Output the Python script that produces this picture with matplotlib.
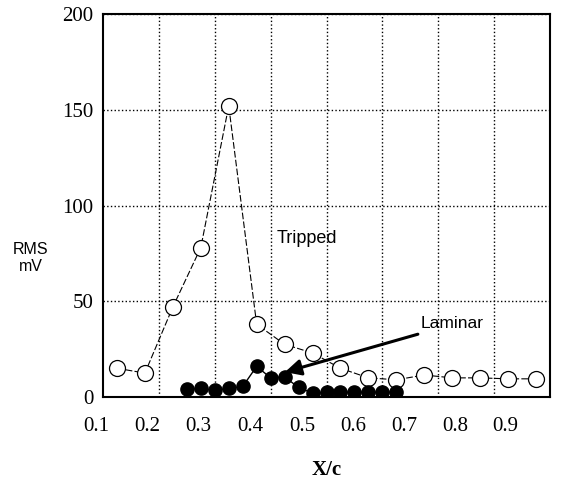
import matplotlib
import matplotlib.pyplot as plt
import matplotlib.transforms as mtransforms

matplotlib.use('Agg')

# tripped boundary layer (open circles)
tripped_x = [0.125, 0.175, 0.225, 0.275, 0.325, 0.375, 0.425, 0.475,
             0.525, 0.575, 0.625, 0.675, 0.725, 0.775, 0.825, 0.875]
tripped_rms = [15, 12.5, 47, 78, 152, 38, 27.5, 23,
               15, 10, 9, 11.5, 10, 10, 9.5, 9.5]

# laminar boundary layer (filled circles)
laminar_x = [0.25, 0.275, 0.3, 0.325, 0.35, 0.375, 0.4, 0.425,
             0.45, 0.475, 0.5, 0.525, 0.55, 0.575, 0.6, 0.625]
laminar_rms = [4, 4.5, 3.5, 4.5, 5.5, 16, 10, 10.5,
               5, 2, 2.5, 2.5, 2.5, 2.5, 2.5, 2.5]

x_grid = [0.2, 0.3, 0.4, 0.5, 0.6, 0.7, 0.8]
y_ticks = [0, 50, 100, 150, 200]
# the printed x labels sit a little off the grid lines in the original
x_labels = ["0.1", "0.2", "0.3", "0.4", "0.5", "0.6", "0.7", "0.8", "0.9"]
x_label_pos = [0.0875, 0.179, 0.270, 0.363, 0.456, 0.547, 0.640, 0.730, 0.819]

serif = "Liberation Serif"
sans = "Liberation Sans"

fig = plt.figure(figsize=(5.65, 4.82), dpi=100)
ax = fig.add_axes([0.1823, 0.1763, 0.9735 - 0.1823, 0.971 - 0.1763])

ax.plot(tripped_x, tripped_rms, color="black", lw=0.8, ls=(0, (6, 2)),
        marker="o", ms=11.5, mfc="white", mec="black", mew=0.9, zorder=3)
ax.plot(laminar_x, laminar_rms, color="black", lw=1.0, ls="solid",
        marker="o", ms=9.5, mfc="black", mec="black", zorder=4)

ax.set_xlim(0.1, 0.9)
ax.set_ylim(0, 200)
ax.set_xticks(x_grid)
ax.set_xticklabels([])
ax.set_yticks(y_ticks)
ax.set_yticklabels([str(v) for v in y_ticks], fontfamily=serif, fontsize=15)
ax.tick_params(axis="both", length=0, pad=7)
ax.grid(True, color="black", ls=":", lw=1.0)
for sp in ax.spines.values():
    sp.set_linewidth(1.5)

trans = mtransforms.blended_transform_factory(ax.transData, ax.transAxes)
for pos, lab in zip(x_label_pos, x_labels):
    ax.text(pos, -0.078, lab, transform=trans, ha="center", va="center",
            fontfamily=serif, fontsize=15, clip_on=False)

ax.text(0.5, -0.19, "X/c", transform=ax.transAxes, ha="center", va="center",
        fontfamily=serif, fontsize=15, fontweight="bold")
fig.text(31/565, 1 - 258/482, "RMS\nmV", ha="center", va="center",
         fontfamily=sans, fontsize=11.5, linespacing=1.1)

ax.text(0.465, 82.8, "Tripped", ha="center", va="center",
        fontfamily=sans, fontsize=13)
ax.text(0.724, 38.5, "Laminar", ha="center", va="center",
        fontfamily=sans, fontsize=12.5)
ax.annotate("", xy=(0.4256, 13), xytext=(0.6635, 32.8),
            arrowprops=dict(arrowstyle="-|>", color="black", lw=2.2,
                            mutation_scale=24, shrinkA=0, shrinkB=0),
            zorder=5)

fig.savefig("out.png", dpi=100)
